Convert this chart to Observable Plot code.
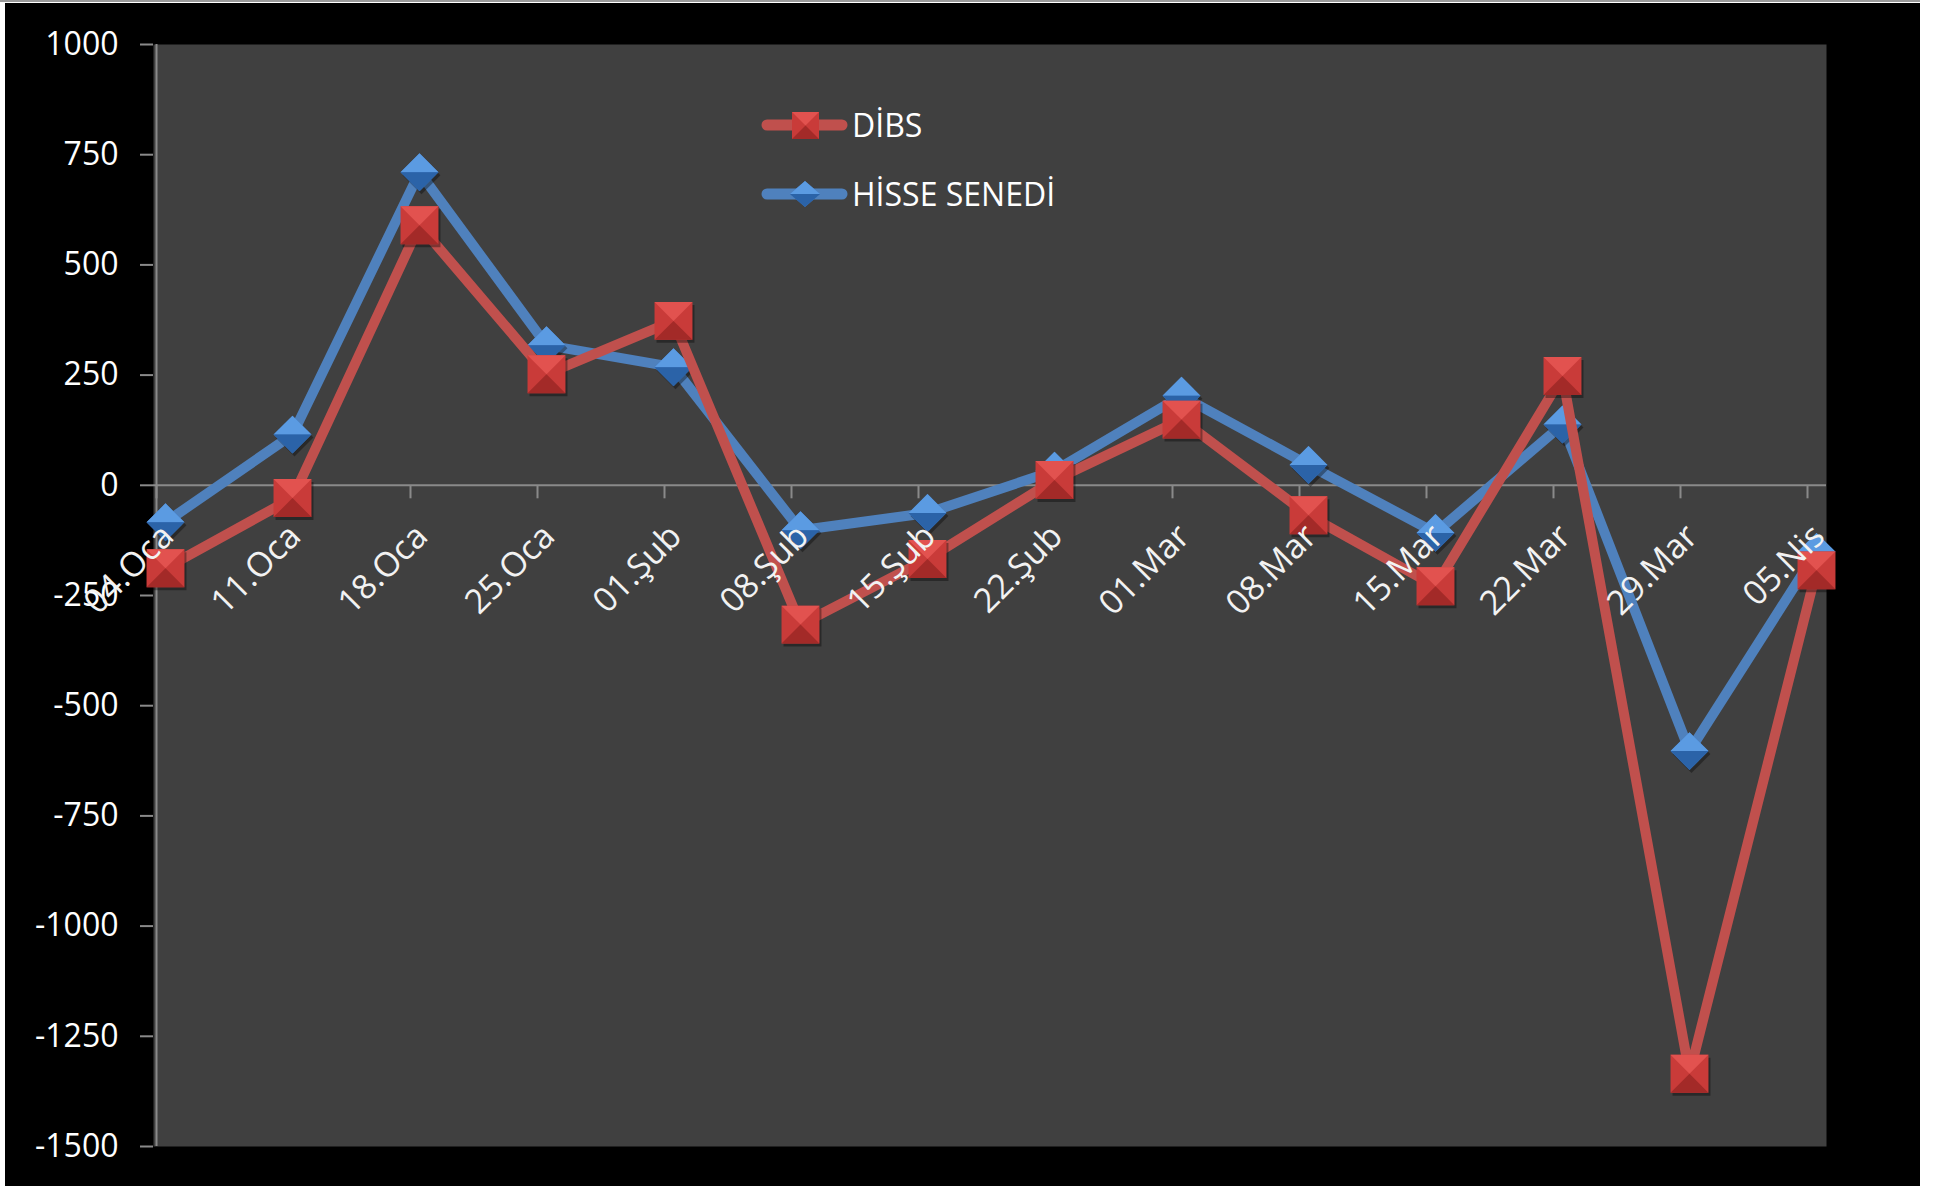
<!DOCTYPE html>
<html>
<head>
<meta charset="utf-8">
<script src="https://cdn.jsdelivr.net/npm/d3@7"></script>
<script src="https://cdn.jsdelivr.net/npm/@observablehq/plot@0.6"></script>
<style>
  html, body { margin: 0; padding: 0; background: #fff; }
  #topline { position: absolute; left: 0; top: 0; width: 1920px; height: 2px; background: #9a9a9a; }
  #wrap { position: absolute; left: 5px; top: 3px; width: 1915px; height: 1183px; background: #000; overflow: hidden; }
  #chart svg { display: block; }
  #legend { position: absolute; left: 0; top: 0; }
</style>
</head>
<body>
<div id="topline"></div>
<div id="wrap">
  <div id="chart"></div>
  <svg id="legend" width="1915" height="400"></svg>
</div>
<script>
// ---- data ----
const dates = ["04.Oca","11.Oca","18.Oca","25.Oca","01.Şub","08.Şub","15.Şub","22.Şub","01.Mar","08.Mar","15.Mar","22.Mar","29.Mar","05.Nis"];
const dibs  = [-188, -29, 590, 252, 373, -316, -167, 12, 149, -68, -229, 248, -1335, -193];
const hisse = [-84, 115, 710, 318, 268, -102, -63, 33, 203, 46, -108, 138, -603, -151];
const yTicks = [1000, 750, 500, 250, 0, -250, -500, -750, -1000, -1250, -1500];
const seriesNames = ["DİBS", "HİSSE SENEDİ"];
const seriesColors = ["#C0504D", "#4F81BD"];

const rowsD = dates.map((d, i) => ({date: d, value: dibs[i]}));
const rowsH = dates.map((d, i) => ({date: d, value: hisse[i]}));

// ---- custom symbols ----
const half = size => Math.sqrt(size) / 2;
const sqFull = {draw(c, s) { const h = half(s); c.moveTo(-h,-h); c.lineTo(h,-h); c.lineTo(h,h); c.lineTo(-h,h); c.closePath(); }};
const sqTop  = {draw(c, s) { const h = half(s); c.moveTo(-h,-h); c.lineTo(h,-h); c.lineTo(0,0); c.closePath(); }};
const sqBot  = {draw(c, s) { const h = half(s); c.moveTo(-h,h); c.lineTo(h,h); c.lineTo(0,0); c.closePath(); }};
const dmFull = {draw(c, s) { const h = half(s); c.moveTo(0,-h); c.lineTo(h,0); c.lineTo(0,h); c.lineTo(-h,0); c.closePath(); }};
const dmTop  = {draw(c, s) { const h = half(s); c.moveTo(0,-h); c.lineTo(h,0); c.lineTo(-h,0); c.closePath(); }};
const dmBot  = {draw(c, s) { const h = half(s); c.moveTo(0,h); c.lineTo(h,0); c.lineTo(-h,0); c.closePath(); }};
const tickSym = {draw(c) { c.moveTo(0,0); c.lineTo(0,13); }};

const font = "'Open Sans', 'Noto Sans', sans-serif";
const gridGray = "#8a8a8a";
const R = 21.4; // marker radius (symbol size = pi r^2)

const markers = (rows, full, top, bot, cBase, cTop, cBot, r) => [
  Plot.dot(rows, {x: "date", y: "value", symbol: full, r, fill: "#000", fillOpacity: 0.35, dx: 2, dy: 3, stroke: null}),
  Plot.dot(rows, {x: "date", y: "value", symbol: full, r, fill: cBase, stroke: null}),
  Plot.dot(rows, {x: "date", y: "value", symbol: top, r, fill: cTop, stroke: null}),
  Plot.dot(rows, {x: "date", y: "value", symbol: bot, r, fill: cBot, stroke: null})
];

const chart = Plot.plot({
  width: 1915,
  height: 1183,
  marginLeft: 148,
  marginRight: 94,
  marginTop: 41,
  marginBottom: 40,
  style: {background: "#000", color: "#fff", fontFamily: font, fontSize: "32px"},
  x: {type: "point", domain: dates, padding: 0, insetLeft: 9, insetRight: 7, axis: null},
  y: {domain: [-1500, 1000], axis: null},
  marks: [
    Plot.frame({fill: "#404040", stroke: null}),
    Plot.ruleY([0], {stroke: gridGray, strokeWidth: 2}),
    Plot.ruleX([dates[0]], {stroke: gridGray, strokeWidth: 2, dx: -9}),
    Plot.axisY(yTicks, {anchor: "left", tickSize: 13, tickPadding: 22, stroke: gridGray, strokeWidth: 2, fill: "#fff", fontSize: 32, label: null, tickFormat: d => String(d)}),
    Plot.dot(dates, {x: d => d, y: () => 0, symbol: tickSym, r: 5, stroke: gridGray, strokeWidth: 2, fill: "none", dx: -9}),
    // HİSSE SENEDİ (blue)
    Plot.line(rowsH, {x: "date", y: "value", stroke: seriesColors[1], strokeWidth: 10, strokeLinejoin: "round", strokeLinecap: "round"}),
    ...markers(rowsH, dmFull, dmTop, dmBot, "#3f78c0", "#5b9be2", "#2b63a8", R),
    // DİBS (red)
    Plot.line(rowsD, {x: "date", y: "value", stroke: seriesColors[0], strokeWidth: 10, strokeLinejoin: "round", strokeLinecap: "round"}),
    ...markers(rowsD, sqFull, sqTop, sqBot, "#c93b39", "#e2524f", "#a32a28", R),
    // x tick labels
    Plot.text(dates, {x: d => d, y: () => 0, text: d => d, rotate: -45, textAnchor: "end", lineAnchor: "bottom", dx: 10, dy: 53, fill: "#f2f2f2", fontSize: 34})
  ]
});
document.getElementById("chart").appendChild(chart);

// ---- legend ----
const lg = d3.select("#legend");
const legY = [122, 191];
seriesNames.forEach((name, i) => {
  const g = lg.append("g").attr("transform", `translate(0,${legY[i]})`);
  g.append("line").attr("x1", 762).attr("x2", 837).attr("y1", 0).attr("y2", 0)
    .attr("stroke", seriesColors[i]).attr("stroke-width", 11).attr("stroke-linecap", "round");
  if (i === 0) {
    g.append("rect").attr("x", 787).attr("y", -13).attr("width", 27).attr("height", 27).attr("fill", "#c93b39");
    g.append("path").attr("d", "M787,-13L814,-13L800.5,0.5Z").attr("fill", "#e2524f");
    g.append("path").attr("d", "M787,14L814,14L800.5,0.5Z").attr("fill", "#a32a28");
  } else {
    g.append("path").attr("d", "M800,-13L815,0L800,13L785,0Z").attr("fill", "#3f78c0");
    g.append("path").attr("d", "M800,-13L815,0L785,0Z").attr("fill", "#5b9be2");
    g.append("path").attr("d", "M800,13L815,0L785,0Z").attr("fill", "#2b63a8");
  }
  g.append("text").attr("x", 847).attr("y", 0).attr("dy", "0.36em")
    .attr("fill", "#fff").attr("font-family", font).attr("font-size", 32)
    .text(name);
});
</script>
</body>
</html>
